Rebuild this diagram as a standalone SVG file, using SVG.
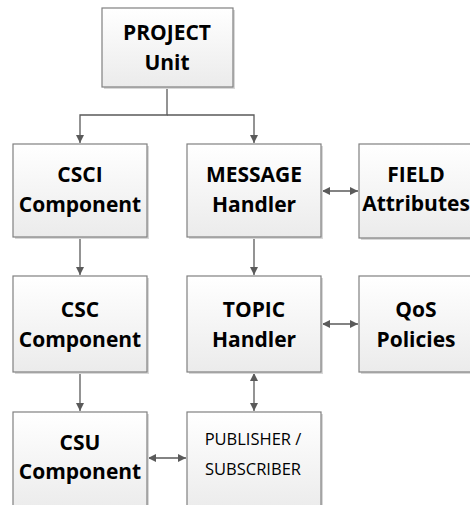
<svg xmlns="http://www.w3.org/2000/svg" width="470" height="505" viewBox="0 0 470 505">
<style>
.box{fill:url(#g);stroke:#808080;stroke-width:1.2}
.sh{fill:#d8d8d8}
.t{font-family:"Open Sans","Liberation Sans",sans-serif;font-weight:bold;font-size:21px;fill:#000;text-anchor:middle}
.s{font-family:"Open Sans","Liberation Sans",sans-serif;font-size:16.5px;fill:#000;text-anchor:middle}
.c{fill:none;stroke:#5a5a5a;stroke-width:1.3}
</style>
<defs>
<linearGradient id="g" x1="0" y1="0" x2="0" y2="1">
<stop offset="0" stop-color="#ffffff"/>
<stop offset="1" stop-color="#ebebeb"/>
</linearGradient>
<marker id="a" viewBox="0 0 10 10" refX="10" refY="5" markerWidth="8" markerHeight="8" markerUnits="userSpaceOnUse" orient="auto-start-reverse">
<path d="M0,0 L10,5 L0,10 z" fill="#5a5a5a"/>
</marker>
</defs>
<g id="connectors">
<path class="c" d="M167,87 V115 H80 V143" marker-end="url(#a)"/>
<path class="c" d="M167,115 H254 V143" marker-end="url(#a)"/>
<path class="c" d="M80,237 V275" marker-end="url(#a)"/>
<path class="c" d="M254,237 V275" marker-end="url(#a)"/>
<path class="c" d="M80,372 V411" marker-end="url(#a)"/>
<path class="c" d="M322,191 H358" marker-start="url(#a)" marker-end="url(#a)"/>
<path class="c" d="M322,324 H358" marker-start="url(#a)" marker-end="url(#a)"/>
<path class="c" d="M254,373 V411" marker-start="url(#a)" marker-end="url(#a)"/>
<path class="c" d="M148,458 H186" marker-start="url(#a)" marker-end="url(#a)"/>
</g>
<g id="project">
<rect class="sh" x="104" y="10" width="131" height="79"/>
<rect class="box" x="102" y="8" width="131" height="79"/>
<text class="t" x="167" y="40">PROJECT</text>
<text class="t" x="167" y="70">Unit</text>
</g>
<g id="csci">
<rect class="sh" x="15" y="146" width="134" height="93"/>
<rect class="box" x="13" y="144" width="134" height="93"/>
<text class="t" x="80" y="182">CSCI</text>
<text class="t" x="80" y="212">Component</text>
</g>
<g id="message">
<rect class="sh" x="189" y="146" width="134" height="93"/>
<rect class="box" x="187" y="144" width="134" height="93"/>
<text class="t" x="254" y="182">MESSAGE</text>
<text class="t" x="254" y="212">Handler</text>
</g>
<g id="field">
<rect class="sh" x="361" y="146" width="134" height="94"/>
<rect class="box" x="359" y="144" width="134" height="94"/>
<text class="t" x="416" y="182">FIELD</text>
<text class="t" x="416" y="211">Attributes</text>
</g>
<g id="csc">
<rect class="sh" x="15" y="278" width="134" height="96"/>
<rect class="box" x="13" y="276" width="134" height="96"/>
<text class="t" x="80" y="317">CSC</text>
<text class="t" x="80" y="347">Component</text>
</g>
<g id="topic">
<rect class="sh" x="189" y="278" width="134" height="96"/>
<rect class="box" x="187" y="276" width="134" height="96"/>
<text class="t" x="254" y="317">TOPIC</text>
<text class="t" x="254" y="347">Handler</text>
</g>
<g id="qos">
<rect class="sh" x="361" y="278" width="134" height="96"/>
<rect class="box" x="359" y="276" width="134" height="96"/>
<text class="t" x="416" y="317">QoS</text>
<text class="t" x="416" y="347">Policies</text>
</g>
<g id="csu">
<rect class="sh" x="15" y="414" width="134" height="100"/>
<rect class="box" x="13" y="412" width="134" height="100"/>
<text class="t" x="80" y="450">CSU</text>
<text class="t" x="80" y="479">Component</text>
</g>
<g id="pubsub">
<rect class="sh" x="189" y="414" width="134" height="100"/>
<rect class="box" x="187" y="412" width="134" height="100"/>
<text class="s" x="253" y="445">PUBLISHER /</text>
<text class="s" x="253" y="475">SUBSCRIBER</text>
</g>
</svg>
